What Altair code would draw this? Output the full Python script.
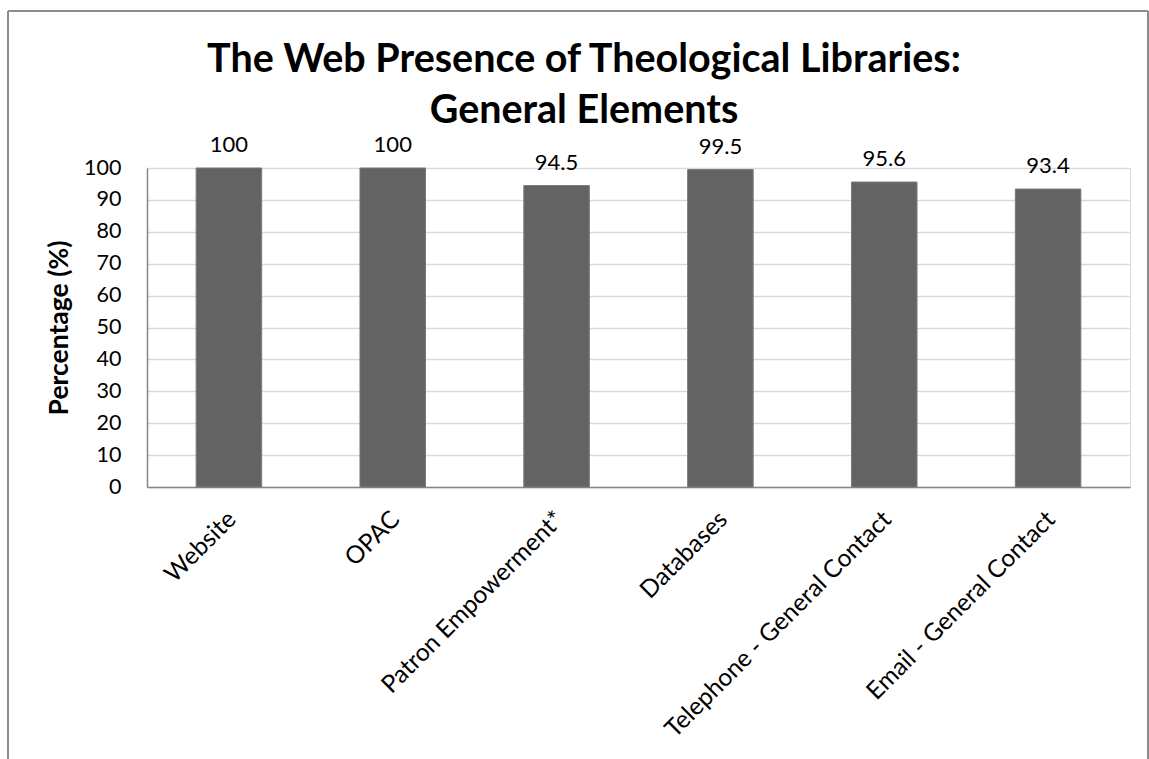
import altair as alt
import pandas as pd

# Survey results: share of theological libraries offering each element
categories = [
    "Website",
    "OPAC",
    "Patron Empowerment*",
    "Databases",
    "Telephone - General Contact",
    "Email - General Contact",
]
percentages = [100, 100, 94.5, 99.5, 95.6, 93.4]
y_ticks = list(range(0, 101, 10))
title_lines = ["The Web Presence of Theological Libraries:", "General Elements"]

df = pd.DataFrame({"element": categories, "pct": percentages})

FONT = "Lato"
PLOT_W, PLOT_H = 983, 319

base = alt.Chart(df).encode(
    x=alt.X(
        "element:N",
        sort=categories,
        title=None,
        scale=alt.Scale(paddingInner=0.6, paddingOuter=0.3),
        axis=alt.Axis(
            labelAngle=-45,
            labelAlign="right",
            labelBaseline="top",
            labelFont=FONT,
            labelFontSize=24.5,
            labelColor="#000000",
            labelPadding=20,
            labelOffset=-5,
            ticks=False,
            domainColor="#868686",
            domainWidth=1.5,
            grid=False,
            labelLimit=0,
        ),
    ),
    y=alt.Y(
        "pct:Q",
        title="Percentage (%)",
        scale=alt.Scale(domain=[0, 100], nice=False),
        axis=alt.Axis(
            values=y_ticks,
            labelFont=FONT,
            labelFontSize=21.5,
            labelColor="#000000",
            labelPadding=26,
            ticks=False,
            domainColor="#868686",
            domainWidth=1.5,
            gridColor="#d9d9d9",
            gridWidth=1.5,
            titleFont=FONT,
            titleFontSize=26.5,
            titleFontWeight="bold",
            titleColor="#000000",
            titlePadding=10,
        ),
    ),
)

bars = base.mark_bar(color="#636363", stroke="#7a7a7a", strokeWidth=1)

labels = base.mark_text(
    font=FONT, fontSize=22, color="#000000", baseline="alphabetic", dy=-16
).encode(text=alt.Text("pct:Q"))

# Single-row source for the decorations drawn around the plot
deco = alt.Chart(pd.DataFrame({"k": [0]}))

# Two-line chart heading, centred on the framed figure
heading = deco.mark_text(
    font=FONT,
    fontSize=39.5,
    fontWeight="bold",
    color="#000000",
    align="center",
    baseline="alphabetic",
    lineHeight=51,
).encode(x=alt.value(437), y=alt.value(-96), text=alt.value(title_lines))

# Outer frame around the whole figure
frame_top = deco.mark_rule(color="#8c8c8c", strokeWidth=2).encode(
    x=alt.value(-139), x2=alt.value(1001), y=alt.value(-157)
)
frame_left = deco.mark_rule(color="#8c8c8c", strokeWidth=2).encode(
    x=alt.value(-139), y=alt.value(-157), y2=alt.value(620)
)
frame_right = deco.mark_rule(color="#8c8c8c", strokeWidth=2).encode(
    x=alt.value(1001), y=alt.value(-157), y2=alt.value(620)
)

chart = (
    alt.layer(bars, labels, heading, frame_top, frame_left, frame_right)
    .properties(
        width=PLOT_W,
        height=PLOT_H,
        autosize=alt.AutoSizeParams(type="none"),
        padding={"left": 147, "top": 168, "right": 19, "bottom": 272},
    )
    .configure_view(stroke=None)
    .configure(background="#ffffff")
)

chart.save("out.html", embed_options={"renderer": "svg", "actions": False})
